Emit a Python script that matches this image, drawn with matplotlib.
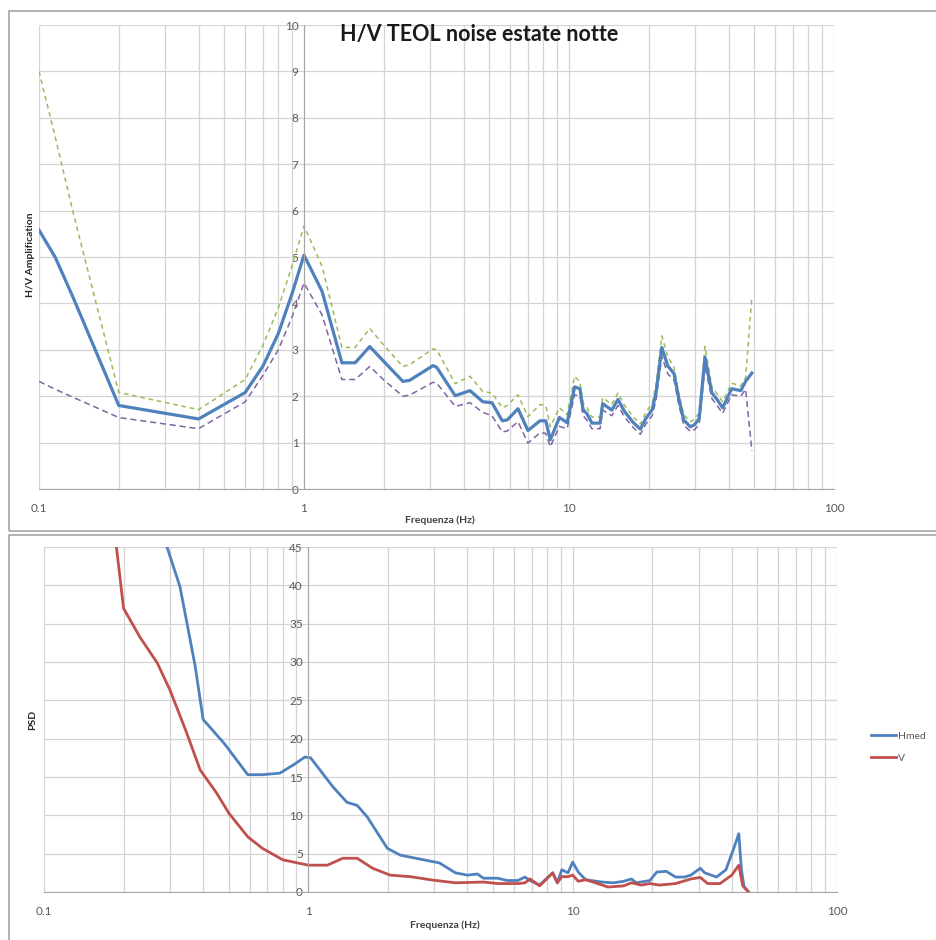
import numpy as np
import matplotlib
matplotlib.use('Agg')
import matplotlib.pyplot as plt
from matplotlib.patches import Rectangle
from matplotlib.ticker import FixedLocator, NullFormatter

plt.rcParams['font.family'] = ['Lato', 'DejaVu Sans']

# --- H/V curve (top) ---
f_hv = [0.1, 0.115, 0.134, 0.2, 0.4, 0.6, 0.7, 0.8, 0.9, 1.0, 1.17, 1.39, 1.56, 1.77, 2.0,
        2.36, 2.5, 3.07, 3.17, 3.72, 4.23, 4.73, 5.12, 5.6, 5.85, 6.42, 7.0, 7.77, 8.17, 8.5,
        9.2, 9.84, 10.5, 11.0, 11.3, 11.7, 12.2, 13.1, 13.4, 14.5, 15.3, 16.2, 17.5, 18.6,
        19.5, 20.6, 21.3, 22.4, 23.6, 24.9, 26.0, 27.1, 28.7, 29.8, 31.0, 32.6, 34.6, 36.2,
        38.0, 41.1, 44.5, 46.4, 49.0]
hv_med = [5.58, 5.0, 4.15, 1.8, 1.51, 2.08, 2.65, 3.35, 4.2, 5.04, 4.26, 2.72, 2.72, 3.07, 2.75,
          2.32, 2.34, 2.66, 2.62, 2.01, 2.12, 1.88, 1.86, 1.47, 1.49, 1.73, 1.26, 1.47, 1.47, 1.06,
          1.54, 1.43, 2.2, 2.16, 1.71, 1.62, 1.42, 1.42, 1.84, 1.70, 1.93, 1.67, 1.43, 1.29,
          1.52, 1.71, 2.07, 3.05, 2.65, 2.49, 1.93, 1.49, 1.34, 1.39, 1.52, 2.84, 2.07, 1.93,
          1.75, 2.16, 2.12, 2.32, 2.5]
hv_max = [9.0, 7.6, 6.0, 2.08, 1.71, 2.36, 3.1, 3.9, 4.8, 5.67, 4.8, 3.05, 3.05, 3.46, 3.1,
          2.64, 2.68, 3.02, 3.0, 2.27, 2.43, 2.1, 2.07, 1.75, 1.8, 2.03, 1.56, 1.82, 1.8, 1.34,
          1.75, 1.6, 2.43, 2.3, 1.85, 1.75, 1.55, 1.55, 1.97, 1.82, 2.07, 1.8, 1.55, 1.4,
          1.65, 1.85, 2.25, 3.3, 2.85, 2.62, 2.05, 1.6, 1.45, 1.5, 1.65, 3.07, 2.2, 2.05,
          1.88, 2.28, 2.22, 2.4, 4.15]
hv_min = [2.32, 2.15, 1.98, 1.54, 1.3, 1.88, 2.45, 3.0, 3.7, 4.44, 3.75, 2.36, 2.36, 2.64, 2.35,
          2.0, 2.02, 2.3, 2.28, 1.78, 1.86, 1.65, 1.58, 1.23, 1.25, 1.45, 0.99, 1.21, 1.2, 0.91,
          1.35, 1.3, 2.03, 2.0, 1.58, 1.48, 1.3, 1.3, 1.7, 1.58, 1.8, 1.55, 1.32, 1.18,
          1.4, 1.58, 1.92, 2.85, 2.48, 2.35, 1.8, 1.38, 1.24, 1.28, 1.4, 2.65, 1.95, 1.8,
          1.63, 2.03, 2.0, 2.15, 0.82]

# --- PSD (bottom) ---
f_h = [0.287, 0.292, 0.327, 0.373, 0.4, 0.48, 0.59, 0.67, 0.78, 0.88, 0.97, 1.02, 1.24, 1.4,
       1.53, 1.67, 1.99, 2.23, 2.73, 3.13, 3.6, 4.0, 4.36, 4.6, 5.2, 5.65, 6.2, 6.6, 6.9, 7.5,
       8.4, 8.75, 9.1, 9.6, 10.0, 10.5, 11.2, 12.9, 14.3, 15.6, 16.7, 17.4, 19.6, 20.8, 22.6,
       24.5, 26.5, 28.0, 30.4, 31.6, 35.0, 38.0, 40.5, 42.5, 43.5, 44.5, 46.3]
psd_h = [46.5, 45.0, 39.8, 29.5, 22.5, 19.4, 15.3, 15.3, 15.5, 16.6, 17.6, 17.5, 13.7, 11.7,
         11.3, 9.8, 5.7, 4.8, 4.2, 3.8, 2.5, 2.2, 2.35, 1.8, 1.8, 1.5, 1.5, 1.95, 1.5, 0.9,
         2.5, 1.2, 2.9, 2.5, 3.9, 2.6, 1.6, 1.3, 1.2, 1.4, 1.7, 1.2, 1.5, 2.6, 2.7,
         1.95, 1.95, 2.2, 3.1, 2.5, 1.95, 2.9, 5.5, 7.6, 2.9, 0.7, 0.0]
f_v = [0.185, 0.2, 0.231, 0.268, 0.3, 0.347, 0.39, 0.45, 0.5, 0.59, 0.67, 0.8, 1.0, 1.18,
       1.35, 1.53, 1.75, 2.04, 2.43, 2.96, 3.6, 4.6, 5.2, 6.2, 6.6, 6.9, 7.5, 8.4, 8.75, 9.1,
       9.6, 10.0, 10.5, 11.2, 12.2, 13.6, 15.6, 16.7, 18.2, 19.6, 21.3, 24.5, 28.0, 30.4, 32.4,
       36.1, 40.0, 42.5, 44.0, 46.3]
psd_v = [47.0, 37.0, 33.2, 29.9, 26.3, 20.7, 15.9, 12.9, 10.3, 7.2, 5.7, 4.2, 3.5, 3.5,
         4.4, 4.4, 3.1, 2.2, 2.0, 1.55, 1.2, 1.3, 1.1, 1.1, 1.2, 1.7, 0.8, 2.5, 1.2, 2.0,
         2.0, 2.2, 1.4, 1.6, 1.2, 0.65, 0.8, 1.2, 0.9, 1.1, 0.9, 1.1, 1.7, 1.9, 1.1,
         1.1, 2.2, 3.5, 0.8, 0.0]

xticks = [0.1, 1, 10, 100]
xticklabels = ['0.1', '1', '10', '100']
minor_x = [m * d for d in (0.1, 1, 10) for m in range(2, 10)]

W, H = 937, 940
fig = plt.figure(figsize=(W / 100, H / 100), dpi=100)

# chart area frames
fig.patches.append(Rectangle((9 / W, 1 - 531 / H), 940 / W, 520 / H, transform=fig.transFigure,
                             fill=False, edgecolor='#a6a6a6', lw=1.2))
fig.patches.append(Rectangle((9 / W, 1 - 950 / H), 940 / W, 415 / H, transform=fig.transFigure,
                             fill=False, edgecolor='#a6a6a6', lw=1.2))

grid_c = '#d4d4d4'
tick_c = '#595959'


def style(ax, ymax, ystep):
    ax.set_xscale('log')
    ax.set_xlim(0.1, 100)
    ax.set_ylim(0, ymax)
    ax.xaxis.set_major_locator(FixedLocator(xticks))
    ax.set_xticklabels(xticklabels)
    ax.xaxis.set_minor_locator(FixedLocator(minor_x))
    ax.xaxis.set_minor_formatter(NullFormatter())
    ax.set_yticks(np.arange(0, ymax + 0.1, ystep))
    ax.grid(True, which='both', axis='x', color=grid_c, lw=0.9)
    ax.grid(True, which='major', axis='y', color=grid_c, lw=0.9)
    ax.set_axisbelow(True)
    for s in ('top', 'right'):
        ax.spines[s].set_visible(False)
    ax.spines['left'].set_position(('data', 1))
    ax.spines['left'].set_color('#a6a6a6')
    ax.spines['bottom'].set_color('#a6a6a6')
    ax.tick_params(axis='both', which='both', length=0, colors=tick_c, labelsize=8.5)
    ax.tick_params(axis='x', pad=10)
    ax.tick_params(axis='y', pad=4)


# top chart
ax1 = fig.add_axes([39 / W, 1 - 489 / H, 795 / W, 464 / H])
style(ax1, 10, 1)
ax1.plot(f_hv, hv_max, color='#9bbb59', lw=1.1, ls=(0, (3, 2.5)))
ax1.plot(f_hv, hv_min, color='#8064a2', lw=1.1, ls=(0, (4, 2.5)))
ax1.plot(f_hv, hv_med, color='#4f81bd', lw=2.3)
fig.text(479 / W, 1 - 34 / H, 'H/V TEOL noise estate notte', ha='center', va='center',
         fontsize=15.5, fontweight='bold', color='#1a1a1a')
fig.text(440 / W, 1 - 520 / H, 'Frequenza (Hz)', ha='center', va='center',
         fontsize=7.5, fontweight='bold', color='#404040')
fig.text(31 / W, 1 - 255 / H, 'H/V Amplification', ha='center', va='center', rotation=90,
         fontsize=7.5, fontweight='bold', color='#262626')

# bottom chart
ax2 = fig.add_axes([44 / W, 1 - 892 / H, 793 / W, 345 / H])
style(ax2, 45, 5)
l1, = ax2.plot(f_h, psd_h, color='#4f81bd', lw=2.0)
l2, = ax2.plot(f_v, psd_v, color='#c0504d', lw=2.0)
fig.text(445 / W, 1 - 925 / H, 'Frequenza (Hz)', ha='center', va='center',
         fontsize=7.5, fontweight='bold', color='#404040')
fig.text(33 / W, 1 - 720 / H, 'PSD', ha='center', va='center', rotation=90,
         fontsize=7.5, fontweight='bold', color='#262626')
fig.legend([l1, l2], ['Hmed', 'V'], loc='center left', bbox_to_anchor=(862 / W, 1 - 747 / H),
           frameon=False, fontsize=7.5, handlelength=2.4, handletextpad=0.2, labelspacing=1.2,
           labelcolor='#595959')

fig.savefig('out.png', dpi=100)
